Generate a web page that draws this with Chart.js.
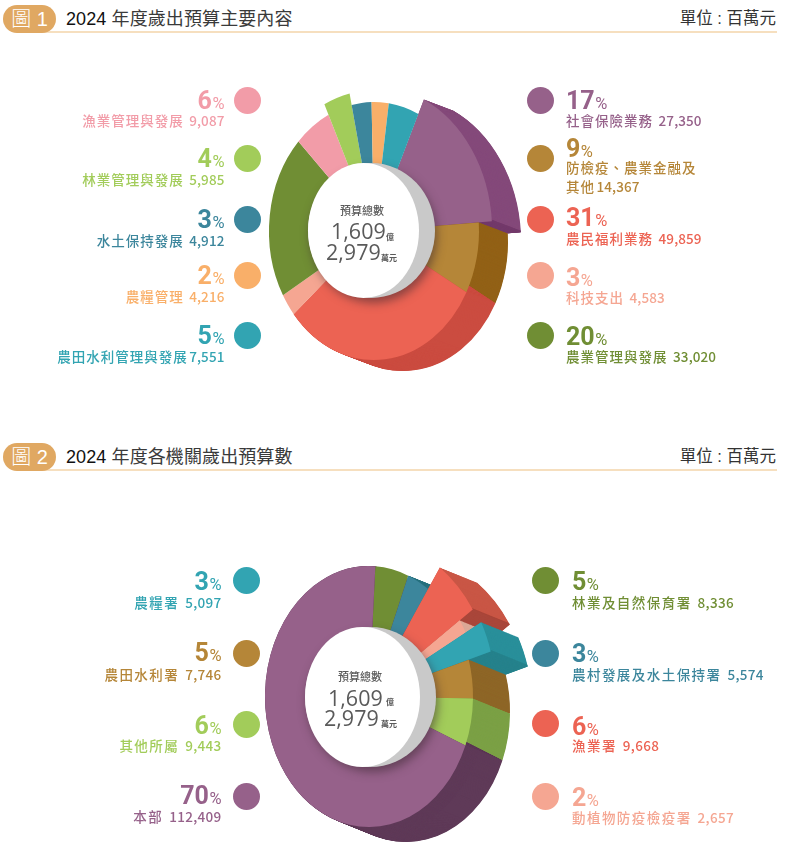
<!DOCTYPE html>
<html lang="zh-Hant"><head><meta charset="utf-8">
<script src="https://cdn.jsdelivr.net/npm/chart.js@4/dist/chart.umd.min.js"></script>
<style>
html,body{margin:0;padding:0;background:#fff;overflow:hidden}
#page{position:relative;width:785px;height:853px;overflow:hidden;font-family:"Liberation Sans","Noto Sans CJK TC",sans-serif}
#page>*{position:absolute}
canvas{display:block}
.pill{left:3px;width:53px;height:28px;border-radius:14px;background:#e0a862;color:#fff;font-size:20px;line-height:28px;text-align:center;font-weight:300}
.rule{left:30px;width:747px;height:2px;background:#f6dfbf}
.title{left:66px;font-size:18px;line-height:24px;color:#3a3a3a;white-space:nowrap;letter-spacing:.1px}
.title b{font-weight:400;color:#111}
.unit{right:9px;font-size:16.5px;line-height:22px;color:#333;white-space:nowrap}
.dot{width:27px;height:27px;border-radius:50%;margin:-13.5px 0 0 -13.5px}
.pct,.lab{white-space:nowrap;transform:translateY(-50%);line-height:1}
.pct{font-family:Roboto,"Noto Sans",sans-serif;font-weight:700;font-size:25px}
.pct i{font-style:normal;font-weight:400;font-size:16.5px;margin-left:.5px}
.lab{font-family:"Noto Sans CJK TC",sans-serif;font-size:13.5px;letter-spacing:1px;font-weight:500}
.lab span{letter-spacing:.1px;margin-left:1.5px}
.lab.wide{letter-spacing:1.45px}
.lab.wide span{letter-spacing:.3px;margin-left:1.5px}
.r{transform:translate(-100%,-50%)}
.c{color:#5a5a5a;white-space:nowrap;line-height:1;transform:translateY(-50%)}
.big{font-family:"Open Sans",Lato,sans-serif;font-weight:400;font-size:21.5px}
.sm{font-family:"Noto Sans CJK TC",sans-serif;font-size:11px;font-weight:500}
.xs{font-family:"Noto Sans CJK TC",sans-serif;font-size:8px;font-weight:700}
</style></head>
<body><div id="page"></div>
<script>
/* ---------- data ---------- */
const items1 = ['社會保險業務','防檢疫、農業金融及其他','農民福利業務','科技支出','農業管理與發展','漁業管理與發展','林業管理與發展','水土保持發展','農糧管理','農田水利管理與發展'];
const values1 = [27350,14367,49859,4583,33020,9087,5985,4912,4216,7551];
const pcts1 = [17,9,31,3,20,6,4,3,2,5];
const items2 = ['林業及自然保育署','農村發展及水土保持署','漁業署','動植物防疫檢疫署','農糧署','農田水利署','其他所屬','本部'];
const values2 = [8336,5574,9668,2657,5097,7746,9443,112409];
const pcts2 = [5,3,6,2,3,5,6,70];
const totalLine1 = '1,609';
const totalLine2 = '2,979';

/* ---------- styles ---------- */
const purple='#96618a',tan='#b58638',red='#ec6353',salmon='#f5a692',olive='#708e34',pink='#f29ca8',lime='#a2cc5a',teal='#3c869c',orange='#f9af69',cyan='#32a4b2';
const colors1=[purple,tan,red,salmon,olive,pink,lime,teal,orange,cyan];
const colors2=[olive,teal,red,salmon,cyan,tan,lime,purple];
const pop1=[1.125,1,1,1,1,1,1.09,1,1,1];
const pop2=[1,1,1.2,1.05,1.22,1,1,1];
const sideColors1={0:'#84497a',1:'#926116',2:'#cb4c40'};
const sideColors2={1:'#27717f',2:'#c95645',3:'#dba896',4:'#298f9a',5:'#8e6627',6:'#7ba045',7:'#5f3a58'};
const wallColors1={0:'#733a6b'};
const wallColors2={2:'#a9463a',4:'#26828c'};
const depthOrder1=[0,1,2];
const depthOrder2=[1,2,3,4,5,6,7];

const page=document.getElementById('page');
function el(cls,css,html){const d=document.createElement('div');d.className=cls;Object.assign(d.style,css);if(html!==undefined)d.innerHTML=html;page.appendChild(d);return d;}
function fmt(v){return '<span>'+v.toLocaleString('en-US')+'</span>';}

function depthPlugin(cfg){
  function place(ctx,arc,dx,dy){
    ctx.translate(cfg.cx-cfg.left+dx,cfg.cy-cfg.top+dy);
    ctx.scale(cfg.rx/cfg.radius,1);
    ctx.translate(-arc.x,-arc.y);
  }
  function stamp(ctx,arc,color,start,end){
    const c=Object.create(arc);
    c.options=Object.assign({},arc.options,{backgroundColor:color,borderWidth:0});
    if(start!==undefined){c.startAngle=start;c.endAngle=end;c.circumference=end-start;}
    for(let s=cfg.dx;s>=0;s-=0.5){
      const f=s/cfg.dx;
      ctx.save();place(ctx,arc,cfg.dx*f,cfg.dy*f);c.draw(ctx);ctx.restore();
    }
  }
  return {id:'depth'+cfg.left+cfg.top,
    beforeDatasetsDraw(chart){
      const arcs=chart.getDatasetMeta(0).data,ctx=chart.ctx;
      arcs.forEach((a,i)=>{a.outerRadius=cfg.radius*cfg.pop[i];});
      cfg.order.forEach(i=>{
        stamp(ctx,arcs[i],cfg.side[i]);
        if(cfg.wall[i]) stamp(ctx,arcs[i],cfg.wall[i],arcs[i].endAngle-0.012,arcs[i].endAngle);
      });
      ctx.save();place(ctx,arcs[0],0,0);
    },
    afterDatasetsDraw(chart){
      const ctx=chart.ctx;ctx.restore();
      const ox=-cfg.left,oy=-cfg.top,h=cfg.hole;
      ctx.save();
      ctx.shadowColor='rgba(60,40,50,.55)';ctx.shadowBlur=10;ctx.shadowOffsetX=2;ctx.shadowOffsetY=5;
      ctx.fillStyle='#c9c9c9';ctx.beginPath();ctx.ellipse(h.gx+ox,h.cy+oy,h.grx,h.ry,0,0,7);ctx.fill();
      ctx.restore();
      ctx.fillStyle='#fff';ctx.beginPath();ctx.ellipse(h.wx+ox,h.cy+oy,h.wrx,h.ry,0,0,7);ctx.fill();
    }};
}

function makeChart(cfg){
  const c=document.createElement('canvas');
  c.width=cfg.w;c.height=cfg.h;
  c.style.cssText=`left:${cfg.left}px;top:${cfg.top}px;width:${cfg.w}px;height:${cfg.h}px`;
  page.appendChild(c);
  new Chart(c,{type:'doughnut',
    data:{labels:cfg.labels,datasets:[{data:cfg.values,backgroundColor:cfg.colors,borderWidth:0,clip:false}]},
    options:{responsive:false,maintainAspectRatio:false,animation:false,events:[],radius:cfg.radius,cutout:'35%',rotation:cfg.rotation,
      layout:{padding:0},plugins:{legend:{display:false},tooltip:{enabled:false}}},
    plugins:[depthPlugin(cfg)]});
}

function header(y,n,title){
  el('rule',{top:(y+26)+'px'});
  el('pill',{top:y+'px'},'圖 '+n);
  el('title',{top:(y+2)+'px'},title);
  el('unit',{top:(y+2)+'px'},'單位 : 百萬元');
}
function center(c){
  el('c sm',{left:c.x1+'px',top:c.y0+'px'},'預算總數');
  el('c big',{left:c.x2+'px',top:c.y1+'px'},totalLine1);
  el('c xs',{left:c.x4+'px',top:c.y1b+'px'},'億');
  el('c big',{left:c.x3+'px',top:c.y2+'px'},totalLine2);
  el('c xs',{left:c.x5+'px',top:c.y2b+'px'},'萬元');
}
function legend(rows,extra){
  rows.forEach(r=>{
    el('dot',{left:r.dx+'px',top:r.dy+'px',background:r.color});
    const right=r.side==='L',pos={left:r.tx+'px'};
    el('pct'+(right?' r':''),{...pos,top:r.py+'px',color:r.color},r.pct+'<i>%</i>');
    r.lines.forEach((t,k)=>el('lab'+(right?' r':'')+(extra||''),{...pos,top:r.ly[k]+'px',color:r.color},t));
  });
}

header(5,1,'<b>2024</b> 年度歲出預算主要內容');
header(443,2,'<b>2024</b> 年度各機關歲出預算數');

makeChart({left:240,top:70,w:300,h:320,cx:374,cy:231,radius:129,rx:105,rotation:25,dx:29,dy:11,
  labels:items1,values:values1,colors:colors1,pop:pop1,side:sideColors1,wall:wallColors1,order:depthOrder1,
  hole:{gx:371.5,wx:363.5,cy:230.5,grx:63.5,wrx:55.5,ry:67.5}});
makeChart({left:240,top:550,w:300,h:303,cx:369,cy:696.5,radius:130.5,rx:104,rotation:3.5,dx:37,dy:15,
  labels:items2,values:values2,colors:colors2,pop:pop2,side:sideColors2,wall:wallColors2,order:depthOrder2,
  hole:{gx:370.5,wx:362.5,cy:697,grx:65.5,wrx:57.5,ry:70}});

center({x1:340,y0:210,x2:331,y1:231,x4:386,y1b:237,x3:326,y2:252,x5:381,y2b:258});
center({x1:338,y0:676,x2:328,y1:698,x4:386,y1b:702,x3:324,y2:718,x5:381,y2b:724});

/* legends, chart 1 */
const dotY1=[100,158,219,275,335],pY1R=[100,148,217,277,336],lY1=[[121],[168,187],[239],[298],[357]];
const idxR1=[0,1,2,3,4];
legend(idxR1.map((i,k)=>({side:'R',dx:540,dy:dotY1[k],tx:566,color:colors1[i],pct:pcts1[i],py:pY1R[k],ly:lY1[k],
  lines:i===1?['防檢疫、農業金融及','其他'+fmt(values1[i])]:[items1[i]+' '+fmt(values1[i])]})));
const idxL1=[5,6,7,8,9],lYL1=[121,180,241,297,357];
legend(idxL1.map((i,k)=>({side:'L',dx:247.5,dy:dotY1[k],tx:224.5,color:colors1[i],pct:pcts1[i],py:dotY1[k],ly:[lYL1[k]],
  lines:[items1[i]+(i===9?'':' ')+fmt(values1[i])]})));
/* legends, chart 2 */
const dotY2=[580,653,723,796],pY2R=[581,653,726,797],lY2R=[603,675,746,818];
legend([0,1,2,3].map((i,k)=>({side:'R',dx:545,dy:dotY2[k],tx:572,color:colors2[i],pct:pcts2[i],py:pY2R[k],ly:[lY2R[k]],
  lines:[items2[i]+' '+fmt(values2[i])]})),' wide');
const idxL2=[4,5,6,7],pY2L=[581,652,725,795],lY2L=[603,675,746,817],dotYL2=[580,653,724,796];
legend(idxL2.map((i,k)=>({side:'L',dx:246,dy:dotYL2[k],tx:221.5,color:colors2[i],pct:pcts2[i],py:pY2L[k],ly:[lY2L[k]],
  lines:[items2[i]+' '+fmt(values2[i])]})),' wide');
</script></body></html>
